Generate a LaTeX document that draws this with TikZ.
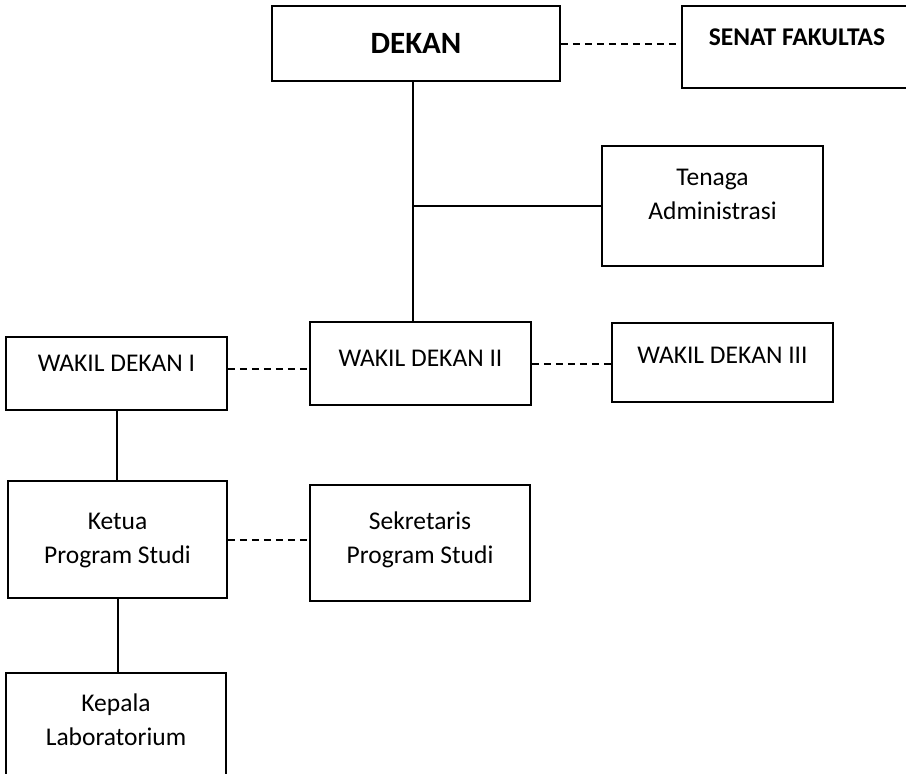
\documentclass[tikz,border=0pt]{standalone}
\usepackage{fontspec}
\setmainfont{Carlito}
\begin{document}
\begin{tikzpicture}[x=1pt, y=-1pt,
		box/.style={draw, line width=1.6pt, align=center, inner sep=0pt, font=\fontsize{25.5}{34}\selectfont, text height=16.4pt},
		twoline/.style={text height=50.4pt},
		lift/.style={text depth=#1},
		solidline/.style={line width=2pt},
		dotline/.style={line width=2pt, dash pattern=on 7pt off 5pt}]
			\useasboundingbox (0, 0) rectangle (906, 774);
			\clip (0, 0) rectangle (906, 774);

			\node[box, minimum width=288pt, minimum height=75pt, font=\fontsize{31}{37}\selectfont\bfseries, text height=20pt] at (416, 43.5) (dekan) {DEKAN};
			\node[box, lift=20pt, minimum width=230pt, minimum height=82pt, font=\fontsize{25.5}{31}\selectfont\bfseries, text height=16.4pt] at (797, 47) (senat) {SENAT FAKULTAS};
			\node[box, twoline, lift=24pt, minimum width=221pt, minimum height=120pt] at (712.5, 206) (tenaga) {Tenaga\\Administrasi};

			\node[box, lift=20pt, minimum width=221pt, minimum height=73pt] at (116.5, 373.5) (wd1) {WAKIL DEKAN I};
			\node[box, lift=10pt, minimum width=221pt, minimum height=83pt] at (420.5, 363.5) (wd2) {WAKIL DEKAN II};
			\node[box, lift=14pt, minimum width=221pt, minimum height=79pt] at (722.5, 362.5) (wd3) {WAKIL DEKAN III};

			\node[box, twoline, lift=3pt, minimum width=219pt, minimum height=117pt] at (117.5, 539.5) (ketua) {Ketua\\Program Studi};
			\node[box, twoline, lift=10pt, minimum width=220pt, minimum height=116pt] at (420, 543) (sekretaris) {Sekretaris\\Program Studi};
			\node[box, twoline, lift=15pt, minimum width=220pt, minimum height=110pt] at (116, 728) (kepala) {Kepala\\Laboratorium};

			\coordinate (cabang) at (413, 206);

			\path
			(dekan.south -| cabang) edge[solidline] (wd2.north -| cabang)
			(cabang) edge[solidline] (tenaga.west |- cabang)
			(wd1.south) edge[solidline] (wd1.south |- ketua.north)
			(ketua.south) edge[solidline] (ketua.south |- kepala.north);

			\path
			(dekan.east) edge[dotline] (dekan.east -| senat.west)
			([yshift=4.5pt]wd1.east) edge[dotline] ([yshift=4.5pt]wd1.east -| wd2.west)
			(wd2.east) edge[dotline] (wd2.east -| wd3.west)
			(ketua.east) edge[dotline] (ketua.east -| sekretaris.west);
		\end{tikzpicture}
\end{document}
